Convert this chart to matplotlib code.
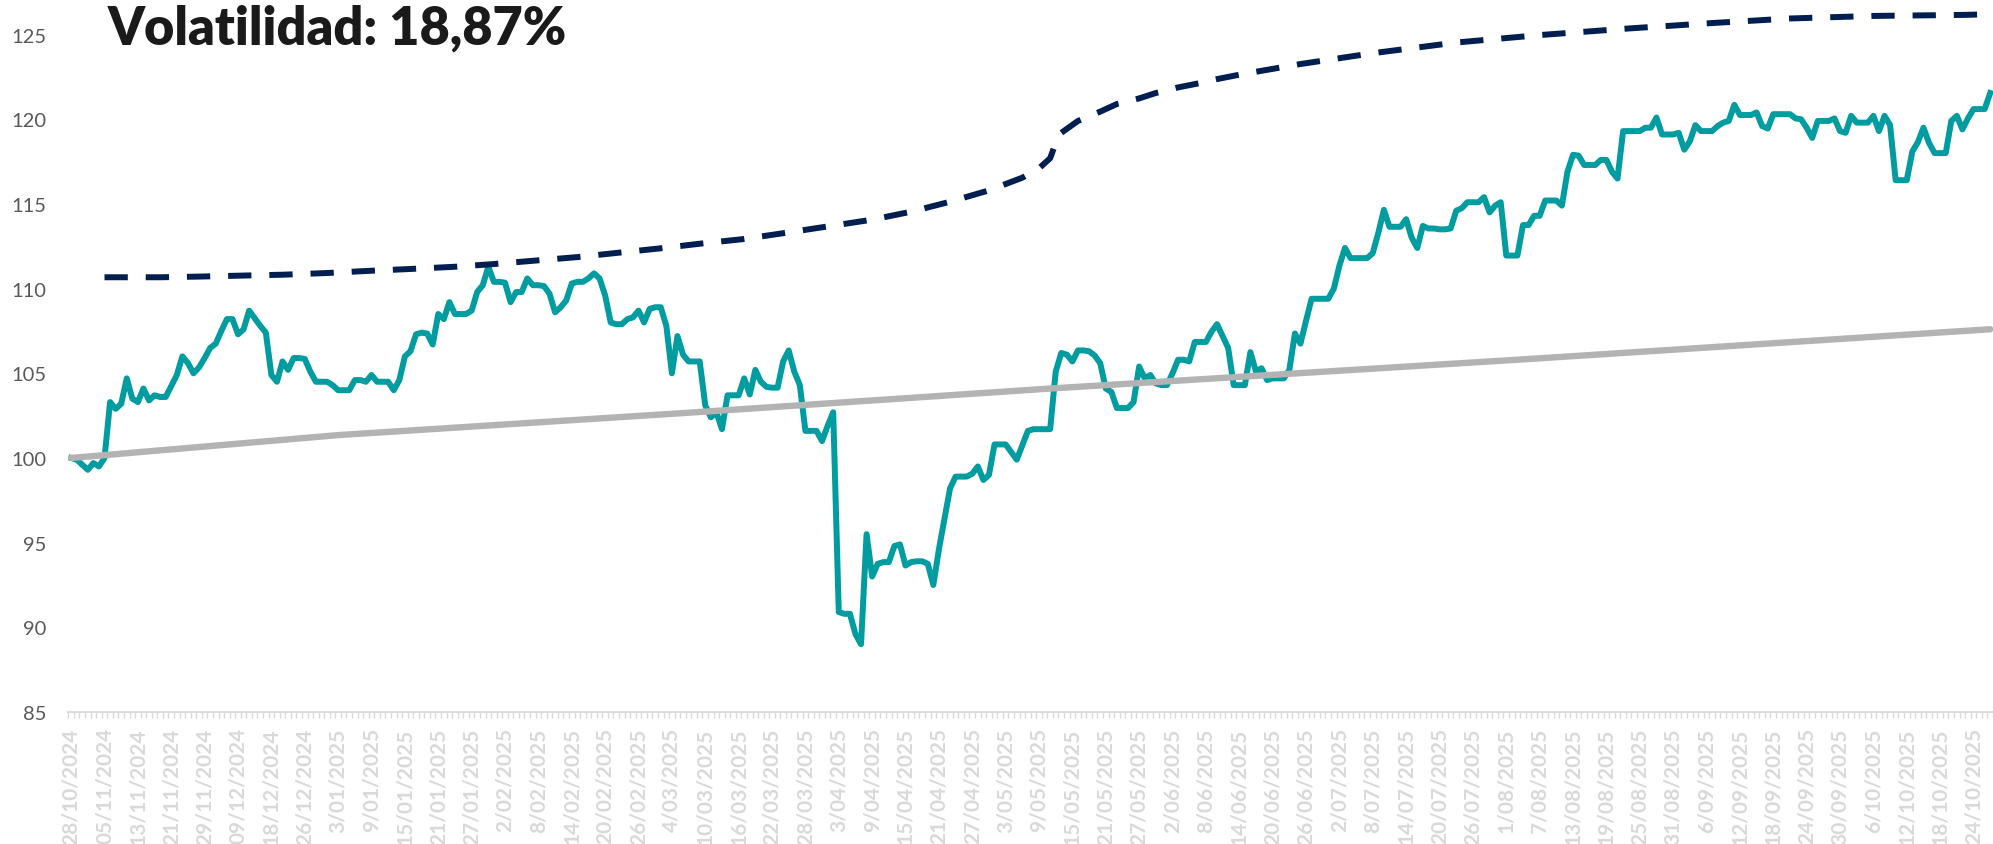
import matplotlib
matplotlib.use('Agg')
import matplotlib.pyplot as plt

# valor diario del fondo (base 100)
fondo = [
    100.0, 99.9, 99.6, 99.3, 99.7, 99.5, 100.0, 103.3, 102.9, 103.2,
    104.7, 103.5, 103.3, 104.1, 103.4, 103.7, 103.6, 103.6, 104.25, 104.9,
    106.0, 105.6, 105.0, 105.35, 105.9, 106.5, 106.75, 107.5, 108.2, 108.2,
    107.3, 107.6, 108.7, 108.25, 107.8, 107.4, 104.9, 104.5, 105.7, 105.2,
    105.9, 105.9, 105.85, 105.1, 104.5, 104.5, 104.5, 104.3, 104.0, 104.0,
    104.0, 104.6, 104.6, 104.5, 104.9, 104.5, 104.5, 104.5, 104.0, 104.6,
    106.0, 106.3, 107.3, 107.4, 107.35, 106.7, 108.5, 108.2, 109.2, 108.5,
    108.5, 108.5, 108.7, 109.8, 110.2, 111.3, 110.4, 110.4, 110.35, 109.2,
    109.8, 109.8, 110.6, 110.2, 110.2, 110.15, 109.7, 108.6, 108.9, 109.3,
    110.3, 110.4, 110.4, 110.6, 110.9, 110.6, 109.6, 108.0, 107.9, 107.9,
    108.2, 108.3, 108.7, 108.0, 108.8, 108.9, 108.9, 107.8, 105.0, 107.2,
    106.1, 105.7, 105.7, 105.7, 103.1, 102.4, 102.7, 101.7, 103.7, 103.7,
    103.7, 104.7, 103.75, 105.2, 104.5, 104.2, 104.15, 104.15, 105.7, 106.35,
    105.1, 104.3, 101.6, 101.6, 101.6, 101.0, 101.9, 102.7, 90.9, 90.8,
    90.8, 89.6, 89.0, 95.5, 93.0, 93.75, 93.85, 93.85, 94.8, 94.9,
    93.65, 93.85, 93.9, 93.9, 93.75, 92.5, 94.6, 96.4, 98.2, 98.9,
    98.9, 98.9, 99.07, 99.5, 98.7, 99.0, 100.8, 100.8, 100.8, 100.35,
    99.9, 100.75, 101.6, 101.7, 101.7, 101.7, 101.7, 105.1, 106.2, 106.1,
    105.7, 106.35, 106.35, 106.3, 106.05, 105.6, 104.1, 103.9, 102.95, 102.95,
    102.95, 103.3, 105.4, 104.7, 104.9, 104.4, 104.3, 104.3, 105.0, 105.8,
    105.8, 105.7, 106.85, 106.85, 106.85, 107.45, 107.9, 107.2, 106.5, 104.3,
    104.3, 104.3, 106.25, 105.1, 105.3, 104.6, 104.7, 104.7, 104.7, 105.2,
    107.35, 106.75, 108.1, 109.4, 109.4, 109.4, 109.4, 110.0, 111.35, 112.4,
    111.8, 111.8, 111.8, 111.8, 112.1, 113.3, 114.65, 113.65, 113.65, 113.65,
    114.1, 113.0, 112.4, 113.7, 113.55, 113.55, 113.5, 113.5, 113.55, 114.6,
    114.75, 115.1, 115.1, 115.1, 115.4, 114.5, 114.9, 115.1, 111.95, 111.95,
    111.95, 113.75, 113.75, 114.3, 114.3, 115.2, 115.2, 115.2, 114.9, 116.9,
    117.9, 117.85, 117.3, 117.3, 117.3, 117.6, 117.6, 116.9, 116.5, 119.3,
    119.3, 119.3, 119.3, 119.5, 119.5, 120.1, 119.1, 119.1, 119.1, 119.2,
    118.2, 118.7, 119.65, 119.3, 119.3, 119.3, 119.6, 119.8, 119.9, 120.85,
    120.25, 120.25, 120.25, 120.4, 119.6, 119.45, 120.3, 120.3, 120.3, 120.3,
    120.05, 120.0, 119.5, 118.9, 119.9, 119.9, 119.9, 120.05, 119.3, 119.2,
    120.2, 119.8, 119.8, 119.8, 120.2, 119.3, 120.2, 119.65, 116.4, 116.4,
    116.4, 118.1, 118.65, 119.5, 118.6, 118.0, 118.0, 118.0, 119.9, 120.2,
    119.4, 120.05, 120.6, 120.6, 120.6, 121.55,
]

# referencia (linea gris)
ref_x = [0, 48, 110, 176, 260, 345]
ref = [100.0, 101.35, 102.65, 104.1, 105.8, 107.6]

# banda superior (linea discontinua)
banda_x = [6, 16, 23, 31, 38, 46, 53, 61, 69, 76, 84, 91, 99, 106, 113, 121,
           129, 136, 144, 151, 158, 165, 171, 174, 176, 177, 178, 181, 185,
           188, 192, 195, 199, 203, 206, 210, 214, 221, 234, 249, 264, 280,
           295, 309, 324, 340, 345]
banda = [110.67, 110.67, 110.71, 110.77, 110.82, 110.92, 111.04, 111.16,
         111.29, 111.45, 111.67, 111.86, 112.14, 112.38, 112.65, 112.93,
         113.32, 113.67, 114.07, 114.54, 115.13, 115.8, 116.55, 117.1, 117.7,
         118.6, 119.2, 119.9, 120.45, 120.9, 121.23, 121.55, 121.88, 122.14,
         122.37, 122.63, 122.86, 123.26, 123.9, 124.53, 124.97, 125.36,
         125.68, 125.95, 126.1, 126.16, 126.2]

etiquetas = [
    '28/10/2024', '05/11/2024', '13/11/2024', '21/11/2024', '29/11/2024',
    '09/12/2024', '18/12/2024', '26/12/2024', '3/01/2025', '9/01/2025',
    '15/01/2025', '21/01/2025', '27/01/2025', '2/02/2025', '8/02/2025',
    '14/02/2025', '20/02/2025', '26/02/2025', '4/03/2025', '10/03/2025',
    '16/03/2025', '22/03/2025', '28/03/2025', '3/04/2025', '9/04/2025',
    '15/04/2025', '21/04/2025', '27/04/2025', '3/05/2025', '9/05/2025',
    '15/05/2025', '21/05/2025', '27/05/2025', '2/06/2025', '8/06/2025',
    '14/06/2025', '20/06/2025', '26/06/2025', '2/07/2025', '8/07/2025',
    '14/07/2025', '20/07/2025', '26/07/2025', '1/08/2025', '7/08/2025',
    '13/08/2025', '19/08/2025', '25/08/2025', '31/08/2025', '6/09/2025',
    '12/09/2025', '18/09/2025', '24/09/2025', '30/09/2025', '6/10/2025',
    '12/10/2025', '18/10/2025', '24/10/2025',
]

titulo = 'Volatilidad: 18,87%'

fig = plt.figure(figsize=(19.93, 8.45), dpi=100)
ax = fig.add_axes([0.0343, 0.1562, 0.9657, 0.8438])

x = list(range(len(fondo)))
ax.plot(x, fondo, color='#009CA0', lw=4.3, solid_joinstyle='round', zorder=2)
ax.plot(ref_x, ref, color='#B3B3B3', lw=4.6, solid_capstyle='round', zorder=3)
ax.plot(banda_x, banda, color='#001E50', lw=4.3, dashes=(3.9, 3.0),
        dash_capstyle='butt', zorder=4)

ax.set_xlim(-0.5, len(fondo) - 0.5)
ax.set_ylim(85, 127.1)

ax.set_yticks(range(85, 126, 5))
ax.tick_params(axis='y', length=0, pad=16, labelsize=14.5, labelcolor='#595959')
for t in ax.get_yticklabels():
    t.set_family('Lato')

ax.set_xticks(range(0, 6 * len(etiquetas), 6))
ax.set_xticklabels(etiquetas, rotation=90, fontsize=15, fontweight='bold',
                   color='#D9D9D9', family='Lato')
ax.set_xticks([i - 0.5 for i in range(len(fondo) + 1)], minor=True)
ax.tick_params(axis='x', which='major', length=0, pad=11)
ax.tick_params(axis='x', which='minor', length=4, width=1, color='#D9D9D9',
               direction='out')

for s in ['top', 'right', 'left']:
    ax.spines[s].set_visible(False)
ax.spines['bottom'].set_color('#D9D9D9')
ax.spines['bottom'].set_linewidth(1.3)

fig.text(0.054, 0.947, titulo, fontsize=37.5, fontweight='heavy', family='Lato',
         color='#1A1A1A', va='baseline', ha='left')

fig.savefig('out.png', dpi=100)
plt.close(fig)
